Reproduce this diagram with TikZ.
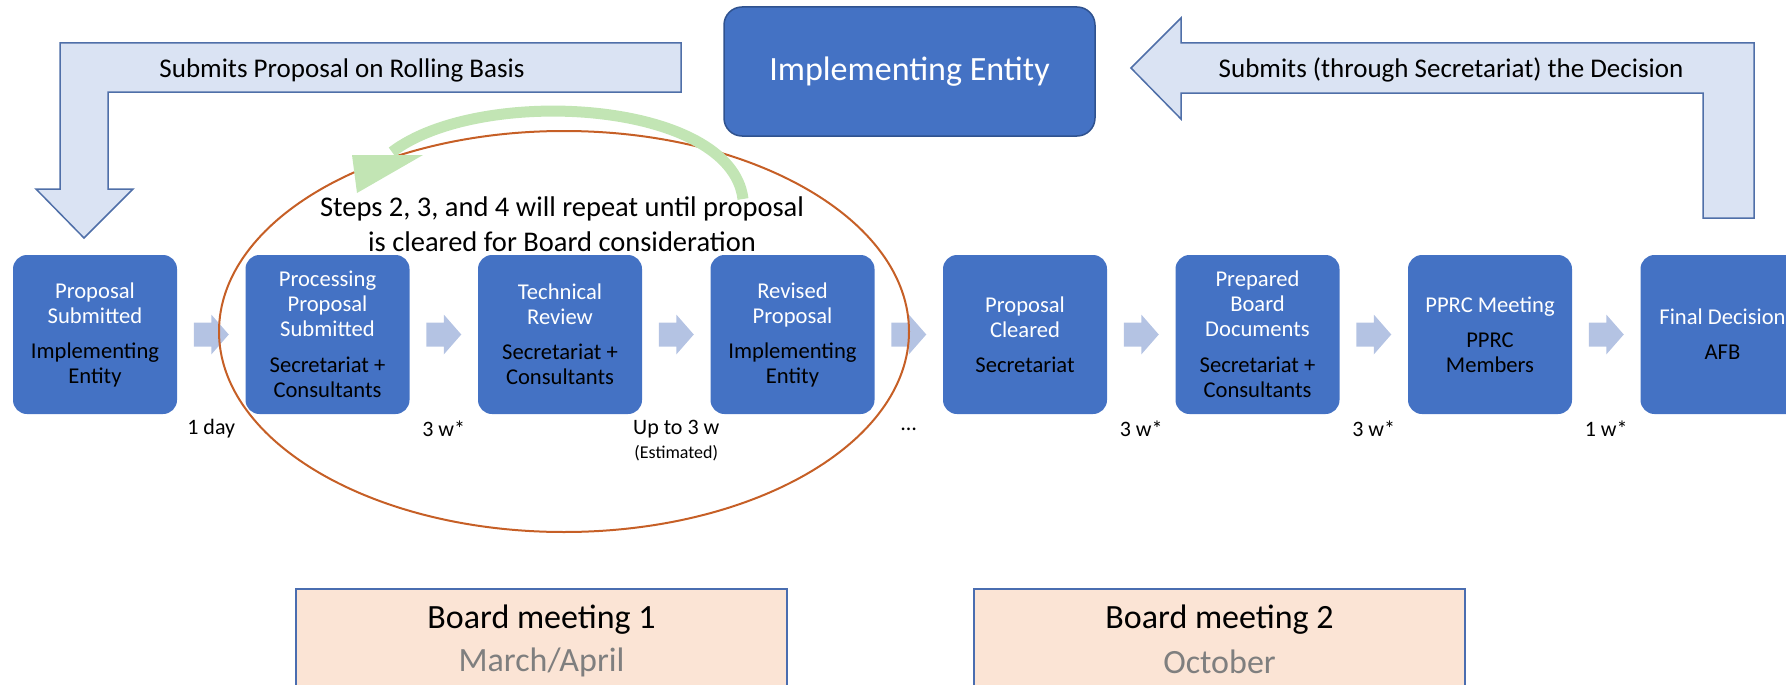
\documentclass[tikz,border=0pt]{standalone}
\usepackage{fontspec}
\setmainfont{Carlito}
\usetikzlibrary{calc}
\definecolor{boxblue}{HTML}{4472C4}
\definecolor{topborder}{HTML}{2F528F}
\definecolor{blockfill}{HTML}{DAE3F3}
\definecolor{blockline}{HTML}{4F6FA8}
\definecolor{smallarrow}{HTML}{B4C3E3}
\definecolor{loopgreen}{HTML}{C2E5B4}
\definecolor{ovalorange}{HTML}{C65F26}
\definecolor{boardfill}{HTML}{FBE4D5}
\definecolor{boardline}{HTML}{4A6DB0}
\definecolor{monthgray}{HTML}{7F7F7F}
\newcommand{\blk}[1]{\textcolor{black}{#1}}
\tikzset{
  stepbox/.style={fill=boxblue, rounded corners=14pt, minimum width=164pt, minimum height=159pt,
    inner sep=0pt, align=center, text=white, font=\fontsize{22.6}{25}\selectfont},
  topbox/.style={fill=boxblue, draw=topborder, line width=1.5pt, rounded corners=18pt,
    minimum width=371pt, minimum height=129pt, text=white, font=\fontsize{34}{40}\selectfont},
  blockarrow/.style={fill=blockfill, draw=blockline, line width=1.5pt},
  flowarrow/.style={fill=smallarrow},
  blocklabel/.style={font=\fontsize{27}{32}\selectfont, inner sep=0pt},
  timelabel/.style={font=\fontsize{22}{25}\selectfont, inner sep=0pt},
  smalllabel/.style={font=\fontsize{18}{21}\selectfont, inner sep=0pt},
  boardbox/.style={fill=boardfill, draw=boardline, line width=1.5pt, minimum width=491pt,
    minimum height=140pt, anchor=north, inner sep=0pt},
  boardtitle/.style={font=\fontsize{34}{40}\selectfont, inner sep=0pt},
  boardmonth/.style={font=\fontsize{34}{40}\selectfont, text=monthgray, inner sep=0pt},
}
\begin{document}
\begin{tikzpicture}[x=1pt,y=-1pt]
\useasboundingbox (0,0) rectangle (1786,685);
\clip (0,0) rectangle (1786,685);

% block arrows
\draw[blockarrow] (60,43) -- (681,43) -- (681,92) -- (108,92) -- (108,189) -- (133,189)
  -- (84,238) -- (36,189) -- (60,189) -- cycle;
\node[blocklabel] (subprop) at (342,70) {Submits Proposal on Rolling Basis};
\draw[blockarrow] (1131,68) -- (1181,18) -- (1181,43) -- (1754,43) -- (1754,218) -- (1703,218)
  -- (1703,93) -- (1181,93) -- (1181,119) -- cycle;
\node[blocklabel] (subdec) at (1451,70) {Submits (through Secretariat) the Decision};

% top box
\node[topbox] (ie) at (909.5,71.5) {Implementing Entity};

% step boxes
\node[stepbox] (b1) at (95,334.5) {Proposal\\Submitted\\[10pt]\blk{Implementing}\\\blk{Entity}};
\node[stepbox] (b2) at (327.5,334.5) {Processing\\Proposal\\Submitted\\[11pt]\blk{Secretariat +}\\\blk{Consultants}};
\node[stepbox] (b3) at (560,334.5) {Technical\\Review\\[10pt]\blk{Secretariat +}\\\blk{Consultants}};
\node[stepbox] (b4) at (792.5,334.5) {Revised\\Proposal\\[10pt]\blk{Implementing}\\\blk{Entity}};
\node[stepbox] (b5) at (1025,334.5) {Proposal\\Cleared\\[10pt]\blk{Secretariat}};
\node[stepbox] (b6) at (1257.5,334.5) {Prepared\\Board\\Documents\\[11pt]\blk{Secretariat +}\\\blk{Consultants}};
\node[stepbox] (b7) at (1490,334.5) {PPRC Meeting\\[10pt]\blk{PPRC}\\\blk{Members}};
\node[stepbox] (b8) at (1722.5,334.5) {Final Decision\\[10pt]\blk{AFB}};

% flow arrows and time labels
\foreach \i/\j/\lab in {1/2/{1 day},2/3/{3 w*},3/4/{Up to 3 w},4/5/{…},5/6/{3 w*},6/7/{3 w*},7/8/{1 w*}}{
  \coordinate (a\i) at ($(b\i.east)!0.5!(b\j.west)$);
  \fill[flowarrow,shift={(a\i)}] (-17.5,-12) -- (0,-12) -- (0,-20) -- (17.5,0) -- (0,20) -- (0,12) -- (-17.5,12) -- cycle;
  \node[timelabel] (t\i) at ($(a\i)+(0,94.5)$) {\lab};
}
\node[smalllabel] (est) at ($(a3)+(0,118.5)$) {(Estimated)};

% oval
\draw[ovalorange, line width=2pt] (564,331.5) ellipse [x radius=345, y radius=200.5];
\node[font=\fontsize{28.5}{35}\selectfont, align=center, inner sep=0pt] (steps) at (562,224.5)
  {Steps 2, 3, and 4 will repeat until proposal\\is cleared for Board consideration};

% loop arrow
\coordinate (gs) at (743,199);
\coordinate (ge) at (392,152);
\draw[loopgreen, line width=11pt] (gs) .. controls (731,100) and (480,85) .. (ge);
\fill[loopgreen] (352,155) -- (423,155) -- (357,193) -- cycle;

% board meetings
\node[boardbox] (bm1) at (541.5,588) {};
\node[boardtitle] (bm1t) at (541.5,620) {Board meeting 1};
\node[boardmonth] (bm1m) at (541.5,662) {March/April};
\node[boardbox] (bm2) at (1219.5,588) {};
\node[boardtitle] (bm2t) at (1219.5,620) {Board meeting 2};
\node[boardmonth] (bm2m) at (1219.5,662) {October};
\end{tikzpicture}
\end{document}
